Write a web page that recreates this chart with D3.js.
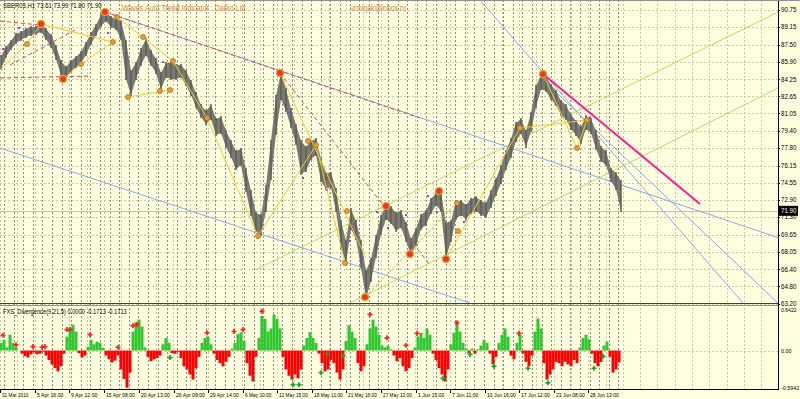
<!DOCTYPE html>
<meta charset="utf-8">
<style>
    body { margin: 0; background: #fff; }
    svg { display: block; font-family: "Liberation Sans", Arial, sans-serif; }
</style>
<svg width="800" height="399"></svg>
<script src="https://cdn.jsdelivr.net/npm/d3@7/dist/d3.min.js"></script>
<script>

// H1 price bars, one entry every 5 bars (high / low)
var highs = [86.53, 87.37, 87.93, 88.59, 88.78, 89.06, 89.25, 89.25, 89.53, 89.06,
    88.50, 87.46, 86.06, 85.49, 86.06, 86.43, 86.90, 87.75, 88.69, 89.44,
    90.38, 90.66, 90.19, 90.00, 89.81, 87.93, 85.12, 85.87, 87.18, 88.12,
    86.99, 86.24, 84.93, 85.87, 85.87, 85.68, 85.68, 85.12, 84.18, 83.05,
    81.92, 81.36, 81.92, 80.61, 80.80, 79.48, 78.54, 77.60, 77.79, 75.91,
    73.85, 71.78, 71.60, 74.32, 78.54, 82.77, 84.93, 83.43, 81.55, 80.05,
    78.54, 77.98, 78.54, 78.73, 76.85, 75.54, 75.54, 74.04, 71.03, 69.15,
    72.16, 71.03, 69.15, 66.34, 67.46, 69.62, 71.50, 72.53, 72.35, 71.78,
    71.97, 70.84, 69.34, 70.28, 71.60, 71.97, 73.10, 73.66, 73.76, 70.84,
    71.03, 72.91, 72.91, 72.53, 73.10, 73.29, 72.91, 72.72, 73.85, 74.98,
    76.20, 77.60, 78.73, 80.23, 80.61, 79.48, 81.17, 83.71, 84.74, 84.55,
    83.80, 83.24, 82.30, 81.92, 80.99, 80.42, 79.86, 80.89, 80.61, 79.48,
    77.98, 77.60, 75.91, 75.54, 74.79];
var lows = [85.12, 86.24, 86.99, 87.56, 87.84, 88.12, 88.31, 88.40, 88.59, 87.93,
    87.18, 86.06, 84.55, 84.18, 84.93, 85.30, 85.68, 86.43, 87.46, 88.31,
    89.15, 89.62, 89.06, 88.87, 87.93, 84.18, 82.68, 84.18, 85.49, 86.43,
    85.49, 84.74, 83.24, 84.37, 84.18, 84.18, 84.37, 83.61, 82.68, 81.55,
    80.61, 79.95, 80.42, 78.92, 79.11, 77.79, 76.85, 75.73, 76.10, 73.66,
    71.41, 69.91, 69.53, 71.78, 74.79, 79.01, 82.30, 81.17, 79.67, 78.07,
    75.26, 75.54, 76.67, 77.04, 74.60, 73.85, 74.04, 71.78, 68.40, 66.90,
    70.09, 69.15, 66.52, 63.61, 65.21, 67.46, 69.62, 71.03, 70.66, 69.91,
    70.28, 68.97, 67.65, 68.59, 70.09, 70.47, 71.60, 72.35, 71.78, 67.37,
    68.97, 71.03, 71.41, 71.03, 71.60, 71.78, 71.41, 71.22, 72.16, 73.29,
    74.41, 75.73, 76.85, 78.36, 79.11, 77.79, 79.30, 81.55, 83.24, 83.05,
    82.30, 81.74, 80.80, 80.42, 79.48, 78.92, 78.17, 79.48, 79.11, 77.60,
    76.48, 76.10, 74.60, 73.85, 71.78];
var lastPrice = 71.90;

// fractal dots: [bar, price]
var fractals = [[3, 87.09], [19, 89.06], [34, 88.59], [49, 88.12], [75, 85.96], [108, 88.59],
    [120, 88.87], [163, 85.87], [288, 81.08], [303, 74.97], [327, 73.85], [350, 69.06],
    [363, 67.46], [377, 71.78], [388, 70.28], [406, 71.50], [428, 73.29], [437, 71.78],
    [464, 70.84], [468, 72.44], [590, 80.61]];

// FXS_Divergence histogram, one entry every 3 bars
var fxs = [0.12, 0.17, 0.05, 0.25, 0.12, 0.05, 0.00, -0.05, -0.09, -0.11,
    -0.06, -0.03, -0.06, -0.05, -0.02, -0.08, -0.15, -0.22, -0.28, -0.33,
    -0.25, -0.05, 0.22, 0.36, 0.41, 0.30, -0.04, -0.11, -0.08, 0.06,
    0.17, 0.10, 0.14, 0.12, 0.04, -0.08, -0.14, -0.19, -0.16, -0.08,
    -0.30, -0.45, -0.59, -0.35, 0.30, 0.45, 0.49, 0.38, 0.05, -0.10,
    -0.17, -0.14, -0.12, -0.08, 0.10, 0.20, 0.12, -0.04, -0.05, -0.02,
    -0.12, -0.25, -0.30, -0.38, -0.46, -0.28, -0.10, 0.12, 0.20, 0.22,
    0.10, -0.05, -0.15, -0.20, -0.25, -0.18, -0.10, 0.03, 0.12, 0.26,
    0.29, 0.15, -0.20, -0.40, -0.49, -0.10, 0.20, 0.55, 0.50, 0.30,
    0.35, 0.57, 0.50, 0.35, -0.10, -0.30, -0.40, -0.46, -0.38, -0.44,
    -0.30, 0.08, 0.20, 0.29, 0.20, 0.12, -0.05, -0.20, -0.33, -0.30,
    -0.15, -0.20, -0.35, -0.46, -0.30, 0.15, 0.40, 0.30, 0.20, -0.20,
    -0.33, -0.25, 0.10, 0.35, 0.49, 0.38, 0.25, 0.08, 0.05, 0.08,
    0.02, -0.08, -0.17, -0.12, -0.25, -0.33, -0.28, -0.12, 0.05, 0.22,
    0.28, 0.20, 0.35, 0.25, -0.05, -0.15, -0.28, -0.38, -0.49, -0.30,
    0.10, 0.28, 0.44, 0.30, 0.12, 0.03, -0.04, 0.03, -0.05, 0.02,
    0.08, 0.17, 0.12, -0.05, -0.22, -0.10, 0.12, 0.25, 0.35, 0.22,
    -0.08, -0.14, 0.12, 0.25, -0.05, -0.18, -0.25, -0.08, 0.30, 0.51,
    0.35, -0.20, -0.46, -0.38, -0.30, -0.18, -0.20, -0.25, -0.18, -0.22,
    -0.25, -0.15, -0.20, 0.05, 0.20, 0.25, 0.18, -0.05, -0.20, -0.25,
    -0.18, 0.08, 0.14, -0.10, -0.35, -0.30, -0.19];

// divergence arrows: [bar, value]
var sellMarks = [[3, 0.21], [16, 0.06], [33, 0.03], [42, 0.02], [45, 0.03], [67, 0.30], [70, 0.30],
    [90, 0.22], [118, 0.02], [133, 0.36], [137, 0.38], [207, 0.25], [234, 0.27], [243, 0.30],
    [262, 0.59], [370, 0.54], [387, 0.17], [406, 0.05], [417, 0.24], [457, 0.41], [519, 0.24]];
var buyMarks = [[170, -0.08], [293, -0.51], [299, -0.51], [321, -0.32], [327, -0.02], [343, -0.05],
    [443, -0.41], [470, -0.03], [494, -0.22], [528, -0.25], [548, -0.48], [594, -0.25], [603, -0.06]];

// wave points: [bar, price]
var bigPoints = [[41, 89.44], [63, 84.27], [105, 90.56], [280, 84.84], [365, 63.80], [386, 72.35],
    [410, 67.84], [439, 73.76], [446, 67.37], [543, 84.74]];
var smallPoints = [[27, 87.56], [81, 85.68], [117, 90.09], [113, 87.75], [128, 82.58], [143, 88.22],
    [160, 83.15], [170, 83.24], [173, 85.96], [207, 80.61], [258, 69.53], [308, 78.45], [316, 78.07],
    [345, 66.99], [347, 71.88], [457, 72.63], [458, 70.00], [520, 79.67], [577, 77.79], [587, 80.42]];

// trend lines: [[bar, price], [bar, price]]
var blueLines = [
    [[105, 90.56], [778, 69.39]],
    [[0, 77.79], [470, 63.24]],
    [[480, 91.69], [743, 63.24]],
    [[540, 84.46], [778, 63.24]]];
var redDashLines = [
    [[105, 90.56], [420, 80.61]],
    [[280, 84.84], [430, 66.81]],
    [[0, 89.72], [40, 89.34]],
    [[0, 84.37], [88, 84.55]],
    [[10, 85.59], [75, 88.87]]];
var greenLines = [
    [[255, 66.34], [778, 90.56]],
    [[350, 63.24], [778, 83.43]]];
var pinkLines = [[[543, 84.74], [700, 72.53]]];
var yellowLines = [
    [[0, 85.12], [27, 87.56]], [[27, 87.56], [41, 89.44]], [[41, 89.44], [113, 87.75]],
    [[63, 84.27], [81, 85.68]], [[81, 85.68], [113, 87.75]], [[117, 90.09], [173, 85.96]],
    [[128, 82.58], [170, 83.24]], [[173, 85.96], [207, 80.61]], [[207, 80.61], [258, 69.53]],
    [[258, 69.53], [316, 78.07]], [[280, 84.84], [366, 67.46]], [[316, 78.07], [345, 66.99]],
    [[446, 67.37], [520, 79.67]], [[520, 79.67], [587, 80.42]], [[543, 84.74], [577, 77.79]],
    [[577, 77.79], [587, 80.42]]];
var orangeDashLines = [[[365, 63.80], [457, 72.63]]];

var priceTicks = [90.75, 89.15, 87.50, 85.90, 84.25, 82.65, 81.05, 79.40, 77.80, 76.15, 74.55,
    72.90, 71.30, 69.65, 68.05, 66.40, 64.80, 63.20];
var timeTicks = [0, 35, 69, 104, 139, 174, 208, 243, 277, 312, 346, 381, 416, 450, 485, 519, 554, 588];
var timeLabels = ["31 Mar 2010", "5 Apr 16:00", "9 Apr 12:00", "15 Apr 08:00", "20 Apr 13:00",
    "26 Apr 09:00", "29 Apr 14:00", "6 May 10:00", "12 May 15:00", "18 May 11:00", "21 May 16:00",
    "27 May 12:00", "1 Jun 15:00", "7 Jun 11:00", "10 Jun 16:00", "17 Jun 12:00", "23 Jun 08:00",
    "28 Jun 13:00"];

var svg = d3.select("svg"),
    plotR = 778;

var x = d3.scaleLinear().domain([0, 778]).range([0, plotR]);
var y = d3.scaleLinear().domain([63.20, 90.75]).range([303.5, 10]);
var y2 = d3.scaleLinear().domain([-0.5942, 0.6422]).range([388, 310]);

svg.append("rect").attr("width", 800).attr("height", 399).attr("fill", "#ffffe0");

svg.append("clipPath").attr("id", "main")
    .append("rect").attr("x", 0).attr("y", 0).attr("width", plotR).attr("height", 303);

// grid
var grid = svg.append("g");
grid.selectAll(".vg").data(d3.range(0, plotR, 17.3)).enter().append("line")
    .attr("x1", function (d) { return Math.round(x(d)) + 0.5; }).attr("x2", function (d) { return Math.round(x(d)) + 0.5; })
    .attr("y1", 0).attr("y2", 389)
    .attr("stroke", "#c8c8b0").attr("stroke-dasharray", "2,2");
grid.selectAll(".ds").data(d3.range(4, 626, 9.6)).enter().append("line")
    .attr("x1", function (d) { return Math.round(x(d)) + 0.5; }).attr("x2", function (d) { return Math.round(x(d)) + 0.5; })
    .attr("y1", 0).attr("y2", 389)
    .attr("stroke", "#8c8c84").attr("stroke-dasharray", "2,2");
grid.selectAll(".hg").data(priceTicks).enter().append("line")
    .attr("x1", 0).attr("x2", plotR)
    .attr("y1", function (d) { return Math.round(y(d)) + 0.5; }).attr("y2", function (d) { return Math.round(y(d)) + 0.5; })
    .attr("stroke", "#c8c8b0").attr("stroke-dasharray", "2,2");
grid.append("line").attr("x1", 0).attr("x2", plotR)
    .attr("y1", Math.round(y2(0)) + 0.5).attr("y2", Math.round(y2(0)) + 0.5)
    .attr("stroke", "#c8c8b0").attr("stroke-dasharray", "2,2");

var main = svg.append("g").attr("clip-path", "url(#main)");

// bid line
main.append("line").attr("x1", 0).attr("x2", plotR)
    .attr("y1", Math.round(y(lastPrice)) + 0.5).attr("y2", Math.round(y(lastPrice)) + 0.5)
    .attr("stroke", "#c0c0c0");

function drawLines(data, color, width, dash) {
    main.append("g").selectAll("line").data(data).enter().append("line")
        .attr("x1", function (d) { return x(d[0][0]); })
        .attr("y1", function (d) { return y(d[0][1]); })
        .attr("x2", function (d) { return x(d[1][0]); })
        .attr("y2", function (d) { return y(d[1][1]); })
        .attr("stroke", color)
        .attr("stroke-width", width)
        .attr("stroke-dasharray", dash);
}

drawLines(greenLines, "#b8d86a", 1, null);
drawLines(blueLines, "#8aa8e8", 1, null);

// price bars: a high/low band plus the single bars on top of it
var band = d3.area()
    .x(function (d, i) { return x(1 + 5 * i); })
    .y0(function (d, i) { return y(lows[i]) - 1; })
    .y1(function (d) { return y(d) + 1; });
main.append("path").datum(highs).attr("d", band).attr("fill", "#7a7a72");
main.append("g").selectAll("line").data(highs).enter().append("line")
    .attr("x1", function (d, i) { return x(1 + 5 * i); })
    .attr("x2", function (d, i) { return x(1 + 5 * i); })
    .attr("y1", function (d) { return y(d); })
    .attr("y2", function (d, i) { return y(lows[i]); })
    .attr("stroke", "#5e5e58").attr("stroke-width", 1.5);

main.append("g").selectAll("rect").data(fractals).enter().append("rect")
    .attr("x", function (d) { return x(d[0]) - 1; })
    .attr("y", function (d) { return y(d[1]) - 1; })
    .attr("width", 2).attr("height", 2)
    .attr("fill", "#9a3cf0");

drawLines(redDashLines, "#e04848", 1, "4,3");
drawLines(orangeDashLines, "#f0a030", 1, "3,2");
drawLines(yellowLines, "#f2c830", 1, null);
drawLines(pinkLines, "#ff1c8c", 2, null);

main.append("g").selectAll("circle").data(smallPoints).enter().append("circle")
    .attr("cx", function (d) { return x(d[0]); })
    .attr("cy", function (d) { return y(d[1]); })
    .attr("r", 2.5)
    .attr("fill", "#e8a030").attr("stroke", "#b07020").attr("stroke-width", 0.8);
main.append("g").selectAll("circle").data(bigPoints).enter().append("circle")
    .attr("cx", function (d) { return x(d[0]); })
    .attr("cy", function (d) { return y(d[1]); })
    .attr("r", 3.5)
    .attr("fill", "#e83a20").attr("stroke", "#f0a030").attr("stroke-width", 1.2);

// histogram
svg.append("g").selectAll("rect").data(fxs).enter().append("rect")
    .attr("x", function (d, i) { return x(1 + 3 * i) - 1.5; })
    .attr("width", 3)
    .attr("y", function (d) { return y2(Math.max(0, d)); })
    .attr("height", function (d) { return Math.abs(y2(d) - y2(0)); })
    .attr("fill", function (d) { return d >= 0 ? "#2ec82e" : "#ff0000"; });

var cross = d3.symbol().type(d3.symbolCross).size(14);
svg.append("g").selectAll("path").data(sellMarks).enter().append("path")
    .attr("transform", function (d) { return "translate(" + x(d[0]) + "," + (y2(d[1]) - 2) + ")"; })
    .attr("d", cross).attr("fill", "#ff2020");
svg.append("g").selectAll("path").data(buyMarks).enter().append("path")
    .attr("transform", function (d) { return "translate(" + x(d[0]) + "," + (y2(d[1]) + 2) + ")"; })
    .attr("d", cross).attr("fill", "#20a020");

// frames
svg.append("line").attr("x1", plotR + 0.5).attr("x2", plotR + 0.5).attr("y1", 0).attr("y2", 390).attr("stroke", "#000");
svg.append("line").attr("x1", 0).attr("x2", 800).attr("y1", 0.5).attr("y2", 0.5).attr("stroke", "#909090");
svg.append("line").attr("x1", 0).attr("x2", plotR).attr("y1", 303.5).attr("y2", 303.5).attr("stroke", "#404040");
svg.append("line").attr("x1", 0).attr("x2", plotR).attr("y1", 305.5).attr("y2", 305.5).attr("stroke", "#909090");
svg.append("line").attr("x1", 0).attr("x2", plotR + 1).attr("y1", 389.5).attr("y2", 389.5).attr("stroke", "#000");

function fit(sel, per) {
    sel.attr("textLength", function () { return this.textContent.length * per; })
        .attr("lengthAdjust", "spacingAndGlyphs");
}

// price axis
var pa = svg.append("g").attr("font-size", 6.5).attr("fill", "#000");
pa.selectAll("text").data(priceTicks).enter().append("text")
    .attr("x", plotR + 3).attr("y", function (d) { return y(d); }).attr("dy", "0.35em")
    .text(function (d) { return d.toFixed(2); })
    .call(fit, 3.1);
pa.selectAll("line").data(priceTicks).enter().append("line")
    .attr("x1", plotR).attr("x2", plotR + 2)
    .attr("y1", function (d) { return Math.round(y(d)) + 0.5; }).attr("y2", function (d) { return Math.round(y(d)) + 0.5; })
    .attr("stroke", "#000");
pa.append("rect").attr("x", plotR + 1).attr("y", y(lastPrice) - 5).attr("width", 19).attr("height", 10).attr("fill", "#000");
pa.append("text").attr("x", plotR + 3).attr("y", y(lastPrice)).attr("dy", "0.35em").attr("fill", "#fff")
    .text(lastPrice.toFixed(2))
    .call(fit, 3.1);

// indicator axis
var ia = svg.append("g").attr("font-size", 6);
ia.selectAll("text").data([0.6422, 0, -0.5942]).enter().append("text")
    .attr("x", plotR + 3).attr("y", function (d) { return y2(d); }).attr("dy", "0.35em")
    .text(function (d) { return d === 0 ? "0.00" : d.toFixed(4); })
    .call(fit, 2.6);

// time axis
var ta = svg.append("g").attr("font-size", 6);
ta.selectAll("line").data(timeTicks).enter().append("line")
    .attr("x1", function (d) { return x(d) + 0.5; }).attr("x2", function (d) { return x(d) + 0.5; })
    .attr("y1", 390).attr("y2", 393).attr("stroke", "#000");
ta.selectAll("text").data(timeTicks).enter().append("text")
    .attr("x", function (d) { return x(d) + 2; }).attr("y", 397)
    .text(function (d, i) { return timeLabels[i]; })
    .call(fit, 2.4);

// captions
svg.append("text").attr("x", 3).attr("y", 8).attr("font-size", 7).text("SBER03,H1  73.61 73.99 71.80 71.90")
    .call(fit, 2.9);
svg.append("text").attr("x", 122).attr("y", 11).attr("font-size", 9).attr("fill", "#c8864a")
    .text("Waves Auto Trend Indicator : Darko Ltd")
    .call(fit, 3.25);
svg.append("text").attr("x", 350).attr("y", 11).attr("font-size", 9).attr("fill", "#c8864a")
    .text("urmirjak@inbox.ru")
    .call(fit, 3.3);
svg.append("text").attr("x", 3).attr("y", 314).attr("font-size", 7).text("FXS_Divergence(9,21,5) 0.0000 -0.1713 -0.1713")
    .call(fit, 2.75);

</script>
